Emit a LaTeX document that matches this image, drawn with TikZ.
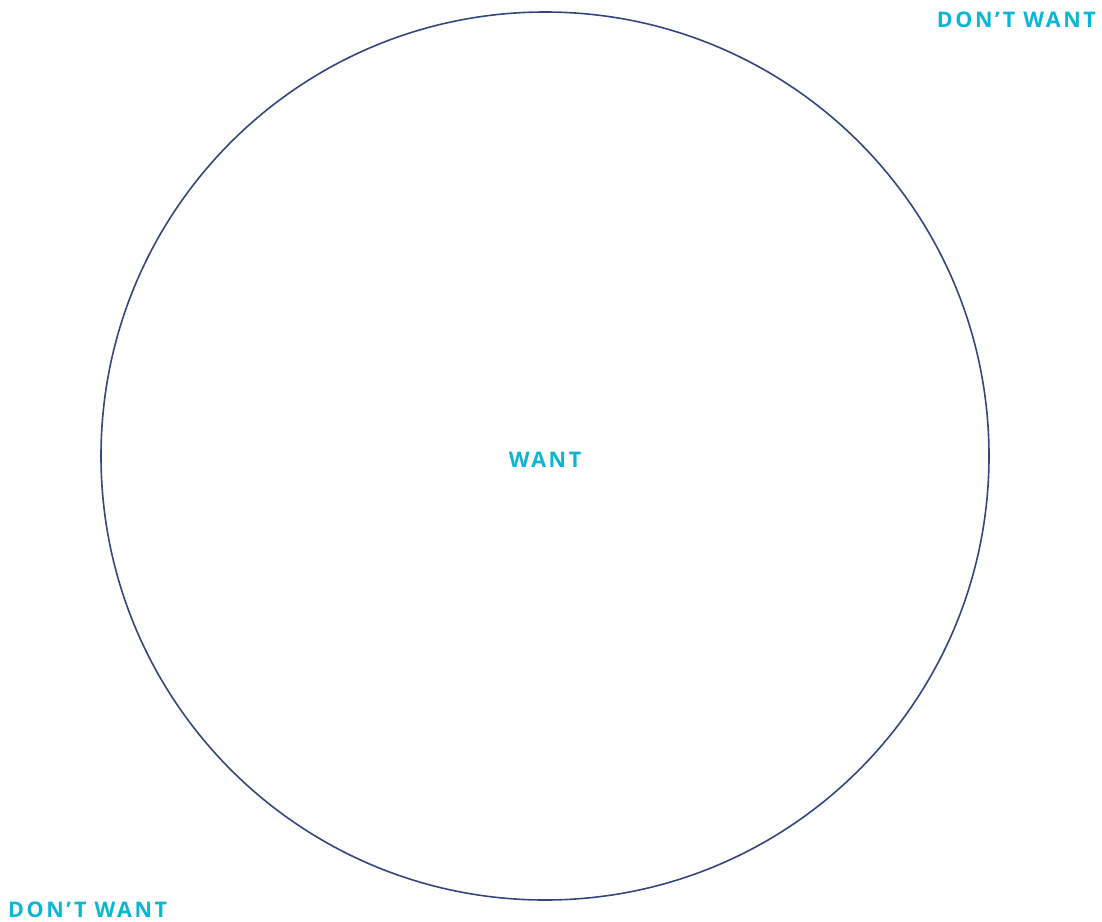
\documentclass[tikz,border=0pt]{standalone}
\usepackage{fontspec}
\setmainfont{Open Sans}
\newfontfamily\lblfont[LetterSpace=12]{Open Sans Bold}
\definecolor{cyanlbl}{HTML}{0AB6D4}
\definecolor{navyring}{HTML}{34467E}
\begin{document}
\begin{tikzpicture}[x=1pt,y=-1pt,
  lbl/.style={text=cyanlbl,font=\lblfont\fontsize{21.5}{25}\selectfont,inner sep=0pt},
  ring/.style={draw=navyring,line width=1.6pt}]
\useasboundingbox (0,0) rectangle (1102,921);
\node[ring,circle,minimum size=888pt,inner sep=0pt] (c) at (545,456) {};
\node[lbl,anchor=base] (want) at (545,467) {WANT};
\node[lbl,anchor=base east] (dwtop) at (1096,27) {DON’T WANT};
\node[lbl,anchor=base west] (dwbot) at (8,917) {DON’T WANT};
\end{tikzpicture}
\end{document}
